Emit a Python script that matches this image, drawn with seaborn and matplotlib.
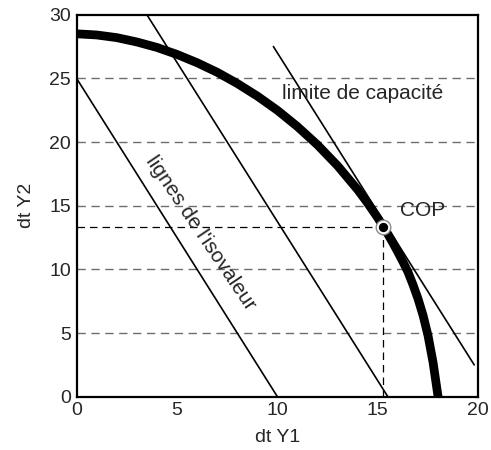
import matplotlib
matplotlib.use("Agg")
import matplotlib.pyplot as plt
import seaborn as sns
import pandas as pd

# --- data ---
curve_x = [0, 1, 2, 3, 4, 5, 6, 7, 8, 9, 10, 11, 12, 13, 14, 14.5, 15, 15.5, 15.75,
           16, 16.25, 16.5, 16.75, 17, 17.25, 17.5, 17.75, 18]
curve_y = [28.5, 28.41, 28.2, 27.86, 27.43, 26.88, 26.23, 25.48, 24.6, 23.61, 22.49, 21.21,
           19.77, 18.13, 16.25, 15.19, 14.04, 12.77, 12.08,
           11.35, 10.6, 9.8, 8.8, 7.7, 6.4, 4.8, 2.7, 0]
iso1_x = [0, 10]
iso1_y = [25, 0]
iso2_x = [3.5, 15.5]
iso2_y = [30, 0]
cap_x = [9.8, 19.8]
cap_y = [27.5, 2.5]
cop_x = 15.27
cop_y = 13.35
x_ticks = [0, 5, 10, 15, 20]
y_ticks = [0, 5, 10, 15, 20, 25, 30]
grid_y = [5, 10, 15, 20, 25]

sns.set_style("white")
plt.rcParams['font.family'] = ['Liberation Sans', 'DejaVu Sans']

fig = plt.figure(figsize=(4.91, 4.5), dpi=100)
ax = fig.add_axes([0.156, 0.1184, 0.818, 0.8489])

# grid lines (grey dashed)
for g in grid_y:
    ax.axhline(g, color='#6e6e6e', lw=1.0, ls=(0, (6, 4)), zorder=1)

# COP guide lines (black dashed)
ax.plot([0, cop_x], [cop_y, cop_y], color='black', lw=0.9, ls=(0, (6, 4)), zorder=2)
ax.plot([cop_x, cop_x], [0, cop_y], color='black', lw=0.9, ls=(0, (6, 4)), zorder=2)

df_curve = pd.DataFrame({'x': curve_x, 'y': curve_y})
sns.lineplot(data=df_curve, x='x', y='y', sort=False, estimator=None, color='black',
             lw=6.3, ax=ax, zorder=4, solid_capstyle='butt', solid_joinstyle='round')
for xs, ys in [(iso1_x, iso1_y), (iso2_x, iso2_y), (cap_x, cap_y)]:
    sns.lineplot(x=xs, y=ys, sort=False, estimator=None, color='black', lw=1.2, ax=ax, zorder=3)

ax.scatter([cop_x], [cop_y], s=110, facecolor='white', edgecolor='#8a8a8a', lw=1.0, zorder=5)
ax.scatter([cop_x], [cop_y], s=45, facecolor='black', edgecolor='black', lw=0, zorder=6)

ax.text(10.25, 23.8, 'limite de capacité', fontsize=15, ha='left', va='center', zorder=7)
ax.text(16.1, 14.6, 'COP', fontsize=15, ha='left', va='center', zorder=7)
ax.text(6.2, 12.9, "lignes de l'isovaleur", fontsize=15, ha='center', va='center',
        rotation=-56, rotation_mode='anchor', zorder=7)

ax.set_xlim(0, 20)
ax.set_ylim(0, 30)
ax.set_xticks(x_ticks)
ax.set_yticks(y_ticks)
ax.tick_params(length=0, labelsize=14, pad=4)
ax.set_xlabel('dt Y1', fontsize=14, labelpad=7)
ax.set_ylabel('dt Y2', fontsize=14, labelpad=10)
for s in ax.spines.values():
    s.set_color('black')
    s.set_linewidth(1.6)
    s.set_visible(True)

fig.savefig('out.png', dpi=100)
